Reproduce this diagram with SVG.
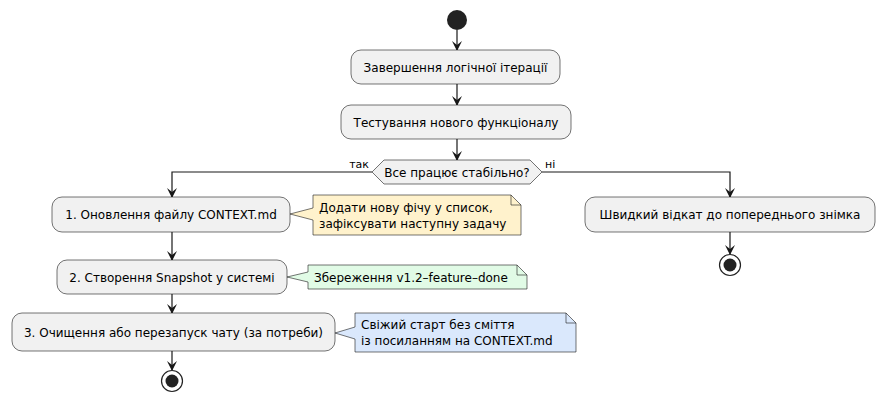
<svg xmlns="http://www.w3.org/2000/svg" width="883" height="405" viewBox="0 0 883 405">
<style>
text{font-family:"DejaVu Sans","Noto Sans",sans-serif;font-size:12px;fill:#000}
.n{fill:#F1F1F1;stroke:#181818;stroke-width:0.6}
.l{fill:none;stroke:#181818;stroke-width:1.2}
.nt{stroke:#181818;stroke-width:0.6}
.s{font-size:11px}
</style>
<defs><marker id="a" viewBox="0 0 10 10" refX="9" refY="5" markerWidth="10" markerHeight="10" orient="auto" markerUnits="userSpaceOnUse"><path d="M0,0 L10,5 L0,10 L4,5 Z" fill="#181818"/></marker></defs>
<g id="connectors">
<line class="l" x1="457" y1="30" x2="457" y2="50" marker-end="url(#a)"/>
<line class="l" x1="457" y1="84" x2="457" y2="105" marker-end="url(#a)"/>
<line class="l" x1="457" y1="139" x2="457" y2="160" marker-end="url(#a)"/>
<polyline class="l" points="372,172 172,172 172,197" marker-end="url(#a)"/>
<polyline class="l" points="542,172 730,172 730,197" marker-end="url(#a)"/>
<line class="l" x1="172" y1="232" x2="172" y2="260" marker-end="url(#a)"/>
<line class="l" x1="172" y1="294" x2="172" y2="313" marker-end="url(#a)"/>
<line class="l" x1="172" y1="351" x2="172" y2="370" marker-end="url(#a)"/>
<line class="l" x1="730" y1="232" x2="730" y2="254" marker-end="url(#a)"/>
<text class="s" x="369" y="168" text-anchor="end">так</text>
<text class="s" x="545" y="168">ні</text>
</g>
<g id="start"><circle cx="457" cy="20" r="10" fill="#222"/></g>
<g id="n1"><rect class="n" x="351" y="50" width="209" height="34" rx="10"/><text x="455.5" y="71.5" text-anchor="middle">Завершення логічної ітерації</text></g>
<g id="n2"><rect class="n" x="341" y="105" width="230" height="34" rx="10"/><text x="456" y="126.5" text-anchor="middle">Тестування нового функціоналу</text></g>
<g id="dec"><polygon class="n" points="372,172 384,160 530,160 542,172 530,184 384,184"/><text x="457" y="176.5" text-anchor="middle">Все працює стабільно?</text></g>
<g id="s1"><rect class="n" x="52" y="197" width="238" height="35" rx="10"/><text x="171" y="219" text-anchor="middle">1. Оновлення файлу CONTEXT.md</text></g>
<g id="note1"><path class="nt" fill="#FFF2CC" d="M313,195 H511 L521,205 V235 H313 V220 L290,214 L313,208 Z"/><path class="nt" fill="none" d="M511,195 V205 H521"/><text x="319" y="212">Додати нову фічу у список,</text><text x="319" y="228">зафіксувати наступну задачу</text></g>
<g id="s2"><rect class="n" x="57" y="260" width="230" height="34" rx="10"/><text x="172" y="281.5" text-anchor="middle">2. Створення Snapshot у системі</text></g>
<g id="note2"><path class="nt" fill="#E1FBE6" d="M308,265 H517 L527,275 V289 H308 V282 L287,277 L308,272 Z"/><path class="nt" fill="none" d="M517,265 V275 H527"/><text x="314" y="281.5">Збереження v1.2–feature–done</text></g>
<g id="s3"><rect class="n" x="12" y="313" width="323" height="38" rx="10"/><text x="173.5" y="336.5" text-anchor="middle">3. Очищення або перезапуск чату (за потреби)</text></g>
<g id="note3"><path class="nt" fill="#DAE8FC" d="M355,313 H566 L576,323 V352 H355 V339 L335,333 L355,327 Z"/><path class="nt" fill="none" d="M566,313 V323 H576"/><text x="361" y="329">Свіжий старт без сміття</text><text x="361" y="345">із посиланням на CONTEXT.md</text></g>
<g id="end1"><circle cx="172" cy="381" r="10.5" fill="#fff" stroke="#222" stroke-width="1.2"/><circle cx="172" cy="381" r="6.5" fill="#222"/></g>
<g id="r1"><rect class="n" x="585" y="197" width="290" height="35" rx="10"/><text x="730" y="219" text-anchor="middle">Швидкий відкат до попереднього знімка</text></g>
<g id="end2"><circle cx="730" cy="265" r="10.5" fill="#fff" stroke="#222" stroke-width="1.2"/><circle cx="730" cy="265" r="6.5" fill="#222"/></g>
</svg>
